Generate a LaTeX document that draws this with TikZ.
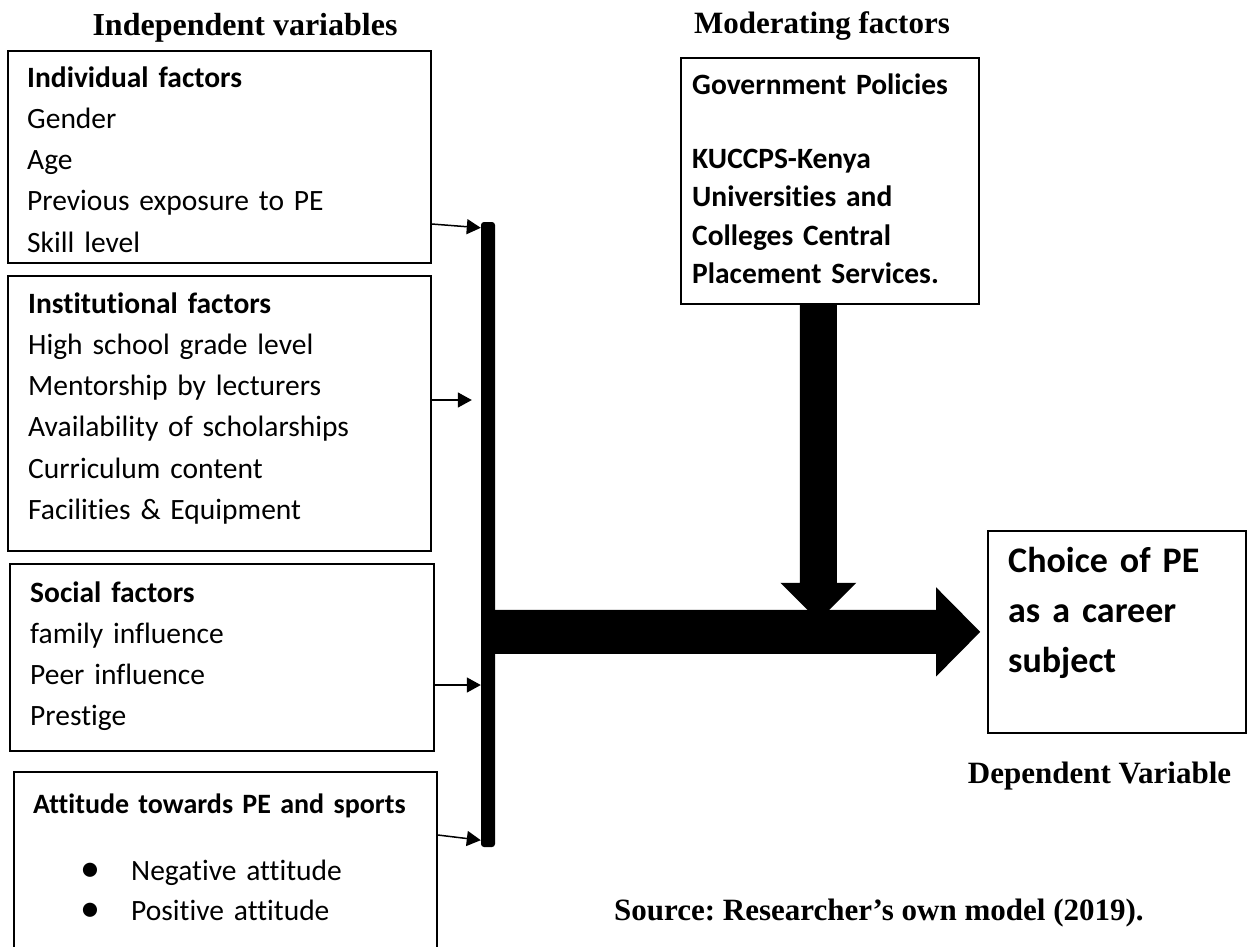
\documentclass[tikz,border=0pt]{standalone}
\usepackage{fontspec}
\setmainfont{Liberation Serif}
\newfontfamily\calibri[Ligatures=NoCommon]{Carlito}
\usetikzlibrary{arrows.meta,positioning}
\frenchspacing

\tikzset{
	factorbox/.style={draw, line width=1.8pt, anchor=north west, inner sep=0pt},
	boxtext/.style={anchor=base west, align=left, inner sep=0pt, text width=400pt, font=\calibri\fontsize{29.5}{41.3}\selectfont},
	heading/.style={anchor=base, inner sep=0pt, font=\bfseries\fontsize{31}{37}\selectfont},
	feed/.style={line width=1.5pt, -{Triangle[length=14pt,width=15pt]}},
	bar/.style={fill=black, rounded corners=3pt, inner sep=0pt}
}
\newcommand{\bulletitem}{\makebox[51pt][l]{\raisebox{-1pt}{\fontsize{40}{40}\selectfont\textbullet}}}

\begin{document}
\begin{tikzpicture}[x=1pt,y=1pt]
		\useasboundingbox (0,0) rectangle (1247,-946);
		
		\node[heading, font=\bfseries\fontsize{32}{37}\selectfont] (indeptitle) at (245,-35) {Independent variables};
		\node[heading] (modtitle) at (822,-33) {Moderating factors};
		
		\node[factorbox, minimum width=423pt, minimum height=212pt] (indiv) at (7,-50) {};
		\node[factorbox, minimum width=423pt, minimum height=275pt] (inst) at (7,-275) {};
		\node[factorbox, minimum width=424pt, minimum height=187pt] (soc) at (9,-563) {};
		\node[factorbox, minimum width=423pt, minimum height=177pt] (att) at (13,-771) {};
		\node[factorbox, minimum width=298pt, minimum height=246pt] (modbox) at (680,-57) {};
		\node[factorbox, minimum width=258pt, minimum height=202pt] (depbox) at (987,-530) {};
		
		\node[boxtext] (indivtxt) at (27,-87) {\textbf{Individual factors}\\Gender\\Age\\Previous exposure to PE\\Skill level};
		\node[boxtext] (insttxt) at (28,-313) {\textbf{Institutional factors}\\High school grade level\\Mentorship by lecturers\\Availability of scholarships\\Curriculum content\\Facilities \& Equipment};
		\node[boxtext] (soctxt) at (30,-602) {\textbf{Social factors}\\family influence\\Peer influence\\Prestige};
		\node[boxtext, font=\calibri\bfseries\fontsize{28}{40}\selectfont] (atthead) at (33,-813) {Attitude towards PE and sports};
		\node[boxtext, font=\calibri\fontsize{29.5}{40}\selectfont] (attlist) at (80,-880) {\bulletitem Negative attitude\\\bulletitem Positive attitude};
		\node[boxtext, text width=280pt, font=\calibri\bfseries\fontsize{29.5}{38.5}\selectfont] (modtxt) at (692,-94) {Government Policies\\[35.5pt]KUCCPS-Kenya\\Universities and\\Colleges Central\\Placement Services.};
		\node[boxtext, text width=230pt, font=\calibri\bfseries\fontsize{36}{50}\selectfont] (deptxt) at (1008,-572) {Choice of PE\\as a career\\subject};
		
		\node[heading] (deptitle) at (1099.5,-783) {Dependent Variable};
		\node[heading, anchor=base west] (source) at (614,-920) {Source: Researcher’s own model (2019).};
		
		\node[bar, minimum width=14pt, minimum height=625pt] (bar) at (488,-534.5) {};
		
		\coordinate (i2) at ([yshift=-125pt]inst.north east);
		\coordinate (i3) at ([yshift=-122pt]soc.north east);
		\draw[feed] ([yshift=-174pt]indiv.north east) -- ([yshift=-6pt]bar.north west);
		\draw[feed, shorten >=9pt] (i2) -- (i2 -| bar.west);
		\draw[feed] (i3) -- (i3 -| bar.west);
		\draw[feed] ([yshift=-64pt]att.north east) -- ([yshift=7pt]bar.south west);
		
		\coordinate (hstart) at (bar.east |- depbox.west);
		\fill ([yshift=22pt]hstart) -- ++(441,0) -- ++(0,22.5) -- ++(44,-44.5) -- ++(-44,-44.5) -- ++(0,22.5) -- ++(-441,0) -- cycle;
		\fill ([xshift=-30pt]modbox.south) -- ++(37,0) -- ++(0,-278) -- ++(19.5,0) -- ++(-38,-38) -- ++(-38,38) -- ++(19.5,0) -- cycle;
	\end{tikzpicture}
\end{document}
